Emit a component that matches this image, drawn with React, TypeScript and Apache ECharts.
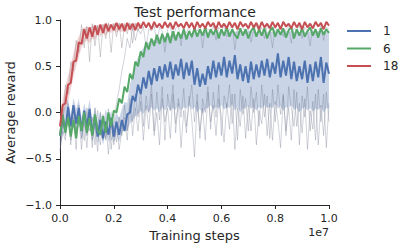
import React, { useEffect, useRef } from 'react';
import * as echarts from 'echarts';

// x positions in units of 1e7 training steps
const steps: number[] = Array.from({ length: 101 }, (_, i) => i / 100);
const earlySteps: number[] = steps.slice(0, 31);

const seriesNames = ['1', '6', '18'];
const xTickStep = 0.2;
const yTickStep = 0.5;

const blueMean = [
  -0.25, -0.05, -0.2, 0.06, -0.15, 0.08, -0.12, 0.05, -0.2, 0.02,
  -0.16, 0.04, -0.24, -0.04, -0.26, -0.08, -0.28, -0.1, -0.24, -0.06,
  -0.26, -0.1, -0.24, -0.08, -0.2, -0.02, 0.0, 0.18, 0.12, 0.3,
  0.2, 0.38, 0.26, 0.45, 0.3, 0.48, 0.34, 0.5, 0.36, 0.52,
  0.38, 0.55, 0.36, 0.52, 0.4, 0.58, 0.36, 0.54, 0.4, 0.56,
  0.3, 0.48, 0.28, 0.42, 0.3, 0.5, 0.36, 0.56, 0.38, 0.54,
  0.4, 0.6, 0.38, 0.56, 0.42, 0.62, 0.36, 0.52, 0.34, 0.5,
  0.32, 0.55, 0.36, 0.52, 0.38, 0.56, 0.4, 0.58, 0.38, 0.54,
  0.42, 0.64, 0.38, 0.56, 0.4, 0.6, 0.36, 0.55, 0.34, 0.5,
  0.36, 0.56, 0.32, 0.52, 0.34, 0.55, 0.38, 0.6, 0.32, 0.54,
  0.42,
];

const greenMean = [
  -0.25, -0.02, -0.22, -0.05, -0.26, -0.08, -0.28, -0.04, -0.2, 0.0,
  -0.22, -0.06, -0.25, -0.02, -0.2, -0.24, -0.04, -0.22, 0.0, -0.15,
  0.02, 0.0, 0.15, 0.1, 0.28, 0.22, 0.42, 0.36, 0.55, 0.5,
  0.66, 0.6, 0.76, 0.68, 0.8, 0.72, 0.84, 0.74, 0.85, 0.76,
  0.86, 0.75, 0.88, 0.78, 0.87, 0.8, 0.9, 0.79, 0.88, 0.82,
  0.91, 0.82, 0.9, 0.83, 0.92, 0.81, 0.9, 0.84, 0.91, 0.8,
  0.9, 0.83, 0.92, 0.82, 0.9, 0.84, 0.8, 0.91, 0.83, 0.9,
  0.8, 0.88, 0.92, 0.82, 0.9, 0.83, 0.91, 0.8, 0.88, 0.92,
  0.82, 0.9, 0.84, 0.91, 0.81, 0.89, 0.92, 0.8, 0.9, 0.83,
  0.91, 0.82, 0.88, 0.92, 0.83, 0.9, 0.81, 0.91, 0.84, 0.9,
  0.86,
];

const redMean = [
  -0.15, 0.08, 0.1, 0.3, 0.32, 0.55, 0.56, 0.76, 0.74, 0.9,
  0.8, 0.92, 0.82, 0.94, 0.84, 0.95, 0.86, 0.96, 0.88, 0.95,
  0.89, 0.97, 0.9, 0.96, 0.88, 0.97, 0.9, 0.96, 0.89, 0.97,
  0.91, 0.98, 0.92, 0.97, 0.9, 0.98, 0.92, 0.96, 0.91, 0.98,
  0.92, 0.97, 0.9, 0.98, 0.93, 0.96, 0.91, 0.98, 0.92, 0.97,
  0.9, 0.98, 0.92, 0.96, 0.91, 0.98, 0.93, 0.97, 0.9, 0.98,
  0.92, 0.96, 0.91, 0.98, 0.92, 0.97, 0.9, 0.98, 0.93, 0.96,
  0.91, 0.98, 0.92, 0.97, 0.9, 0.98, 0.92, 0.96, 0.91, 0.98,
  0.92, 0.97, 0.9, 0.98, 0.93, 0.96, 0.91, 0.98, 0.92, 0.97,
  0.9, 0.98, 0.92, 0.96, 0.91, 0.98, 0.93, 0.97, 0.9, 0.98,
  0.94,
];

const blueBandLow = [
  -0.38, -0.25, -0.18, -0.12, -0.26, -0.1, -0.2, -0.1, -0.3, -0.15,
  -0.26, -0.12, -0.32, -0.18, -0.34, -0.22, -0.35, -0.2, -0.32, -0.22,
  -0.33, -0.24, -0.32, -0.22, -0.18, -0.2, -0.12, -0.08, -0.04, -0.02,
  0.02, -0.02, 0.04, 0.0, 0.06, 0.02, 0.05, 0.0, 0.06, 0.02,
  0.07, 0.02, 0.05, 0.03, 0.08, 0.02, 0.06, 0.04, 0.08, 0.03,
  0.06, 0.0, 0.04, -0.02, 0.04, 0.05, 0.08, 0.03, 0.06, 0.04,
  0.08, 0.03, 0.06, 0.05, 0.09, 0.02, 0.06, 0.0, 0.05, 0.04,
  0.08, 0.04, 0.06, 0.02, 0.06, 0.04, 0.08, 0.05, 0.06, 0.05,
  0.1, 0.04, 0.07, 0.02, 0.06, 0.05, 0.08, 0.03, 0.05, 0.0,
  0.04, 0.06, 0.02, 0.05, 0.01, 0.04, 0.03, 0.06, 0.0, 0.05,
  0.04,
];

const blueBandHigh = [
  -0.12, 0.01, 0.08, 0.15, -0.03, 0.16, 0.04, 0.15, -0.06, 0.1,
  -0.02, 0.14, -0.08, 0.06, -0.1, 0.02, -0.12, 0.04, -0.08, 0.02,
  -0.1, 0.0, -0.06, 0.04, 0.12, 0.1, 0.3, 0.42, 0.52, 0.6,
  0.66, 0.7, 0.74, 0.76, 0.79, 0.78, 0.8, 0.81, 0.83, 0.82,
  0.84, 0.83, 0.85, 0.84, 0.86, 0.85, 0.86, 0.85, 0.87, 0.86,
  0.87, 0.86, 0.87, 0.86, 0.88, 0.87, 0.88, 0.87, 0.88, 0.87,
  0.88, 0.87, 0.88, 0.87, 0.88, 0.87, 0.88, 0.87, 0.88, 0.87,
  0.88, 0.87, 0.88, 0.87, 0.88, 0.87, 0.88, 0.87, 0.88, 0.87,
  0.88, 0.87, 0.88, 0.87, 0.88, 0.87, 0.88, 0.87, 0.88, 0.87,
  0.88, 0.87, 0.88, 0.87, 0.88, 0.87, 0.88, 0.87, 0.88, 0.87,
  0.88,
];

const blueRunLow = [
  -0.42, -0.2, -0.3, 0.05, -0.35, -0.05, -0.4, 0.08, -0.28, -0.1,
  -0.38, 0.02, -0.3, -0.15, -0.42, 0.0, -0.3, -0.12, -0.45, -0.05,
  -0.35, -0.1, -0.4, -0.2, -0.05, -0.3, 0.1, -0.25, 0.05, -0.2,
  0.12, -0.3, 0.08, -0.18, 0.2, -0.25, 0.0, -0.35, 0.15, -0.1,
  0.05, -0.28, 0.2, -0.12, 0.1, -0.38, 0.02, -0.22, 0.18, -0.08,
  -0.48, 0.12, -0.2, 0.05, -0.3, 0.22, -0.1, 0.08, -0.25, 0.15,
  -0.05, -0.32, 0.1, -0.18, 0.2, -0.4, 0.05, -0.15, 0.18, -0.28,
  0.08, -0.2, 0.15, -0.35, 0.02, -0.12, 0.2, -0.25, 0.1, -0.3,
  0.12, -0.08, -0.38, 0.18, -0.2, 0.05, -0.3, 0.25, -0.15, 0.1,
  -0.22, 0.15, -0.4, 0.02, -0.18, 0.2, -0.35, 0.08, -0.25, 0.22,
  -0.1,
];

const blueRunMid = [
  -0.35, -0.1, -0.25, 0.0, -0.3, 0.08, -0.2, -0.05, -0.4, 0.02,
  -0.25, -0.05, -0.38, 0.05, -0.2, -0.35, -0.02, -0.28, 0.04, -0.3,
  -0.15, -0.32, -0.05, -0.25, 0.08, -0.2, 0.15, -0.1, 0.2, -0.05,
  0.25, -0.15, 0.18, 0.0, 0.3, -0.2, 0.22, -0.08, 0.28, -0.3,
  0.2, 0.02, 0.3, -0.22, 0.15, -0.05, 0.26, -0.15, 0.1, 0.3,
  -0.1, 0.2, -0.28, 0.15, 0.0, 0.28, -0.18, 0.22, -0.05, 0.3,
  -0.25, 0.18, 0.05, 0.3, -0.12, 0.2, -0.3, 0.25, -0.02, 0.15,
  -0.2, 0.28, 0.0, 0.22, -0.15, 0.3, -0.05, 0.18, -0.28, 0.25,
  -0.1, 0.3, -0.02, 0.2, -0.25, 0.28, 0.05, -0.15, 0.22, -0.35,
  0.18, -0.05, 0.28, -0.2, 0.12, -0.3, 0.25, -0.1, 0.2, -0.38,
  0.1,
];

const blueRunHigh = [
  -0.3, -0.08, -0.2, 0.1, -0.15, 0.05, -0.25, 0.0, -0.1, -0.3,
  0.05, -0.2, -0.05, -0.35, 0.02, -0.25, -0.1, -0.3, 0.0, -0.4,
  -0.1, 0.1, 0.25, 0.45, 0.6, 0.8, 0.7, 0.92, 0.78, 0.9,
  0.85, 0.93, 0.7, 0.9, 0.88, 0.94, 0.75, 0.92, 0.88, 0.65,
  0.9, 0.93, 0.8, 0.91, 0.94, 0.72, 0.9, 0.86, 0.93, 0.8,
  0.92, 0.88, 0.94, 0.7, 0.91, 0.9, 0.86, 0.94, 0.78, 0.92,
  0.89, 0.93, 0.82, 0.9, 0.94, 0.68, 0.91, 0.88, 0.93, 0.85,
  0.92, 0.76, 0.9, 0.94, 0.87, 0.92, 0.8, 0.93, 0.9, 0.7,
  0.92, 0.88, 0.94, 0.82, 0.9, 0.93, 0.75, 0.91, 0.89, 0.94,
  0.8, 0.92, 0.88, 0.72, 0.93, 0.9, 0.85, 0.94, 0.78, 0.92,
  0.9,
];

const redRunEarly = [
  -0.4, -0.15, 0.3, 0.2, 0.55, 0.45, 0.78, 0.65, 0.95, 0.7,
  0.93, 0.55, 0.96, 0.72, 0.94, 0.6, 0.95, 0.8, 0.97, 0.65,
  0.96, 0.82, 0.97, 0.7, 0.95, 0.85, 0.97, 0.75, 0.96, 0.88,
  0.95,
];

const redBandLowEarly = [
  -0.2, -0.05, 0.05, 0.12, 0.25, 0.38, 0.5, 0.6, 0.7, 0.76,
  0.78, 0.75, 0.8, 0.79, 0.84, 0.82, 0.86, 0.83, 0.87, 0.86,
  0.89, 0.86, 0.88, 0.87, 0.9, 0.88, 0.9, 0.88, 0.91, 0.9,
  0.92,
];

const redBandHighEarly = [
  0.0, 0.15, 0.28, 0.4, 0.52, 0.64, 0.76, 0.82, 0.9, 0.92,
  0.93, 0.91, 0.94, 0.93, 0.95, 0.94, 0.96, 0.95, 0.96, 0.95,
  0.97, 0.95, 0.96, 0.95, 0.97, 0.95, 0.96, 0.95, 0.97, 0.96,
  0.97,
];

const COLORS = ['#4c72b0', '#55a868', '#c44e52'];
const TEXT = '#262626';
const FONT = 'DejaVu Sans';

function pairs(xs: number[], ys: number[]) {
  return xs.map((x, i) => [x, ys[i]]);
}

// confidence band drawn as a polygon through the chart's own coordinate system
function bandSeries(id: string, xs: number[], lo: number[], hi: number[], fill: string) {
  return {
    name: id,
    type: 'custom',
    silent: true,
    clip: true,
    data: pairs(xs, lo),
    encode: { x: 0, y: 1 },
    renderItem: (params: any, api: any) => {
      if (params.dataIndex !== 0) return null;
      const upper = xs.map((x, i) => api.coord([x, hi[i]]));
      const lower = xs.map((x, i) => api.coord([x, lo[i]])).reverse();
      return {
        type: 'polygon',
        shape: { points: upper.concat(lower) },
        style: { fill },
      };
    },
  };
}

function traceSeries(id: string, xs: number[], ys: number[], color: string) {
  return {
    name: id,
    type: 'line',
    symbol: 'none',
    silent: true,
    lineStyle: { width: 0.7, color, opacity: 0.45 },
    data: pairs(xs, ys),
  };
}

function meanSeries(name: string, ys: number[], color: string) {
  return {
    name,
    type: 'line',
    symbol: 'none',
    color,
    lineStyle: { width: 2, color },
    data: pairs(steps, ys),
  };
}

function fmt(v: number) {
  const s = Math.abs(v).toFixed(1);
  return v < 0 ? '\u2212' + s : s;
}

export default function App() {
  const ref = useRef<HTMLDivElement>(null);
  useEffect(() => {
    const chart = echarts.init(ref.current!, null, { renderer: 'svg' });
    chart.setOption({
      animation: false,
      textStyle: { fontFamily: FONT, color: TEXT },
      title: {
        text: 'Test performance',
        left: 195,
        top: 5,
        textAlign: 'center',
        padding: 0,
        textStyle: { fontFamily: FONT, fontSize: 14, fontWeight: 'normal', color: TEXT },
      },
      grid: { left: 60, right: 78, top: 20, bottom: 43, containLabel: false, outerBoundsMode: 'none' },
      legend: {
        data: seriesNames,
        orient: 'vertical',
        left: 342,
        top: 20,
        icon: 'rect',
        itemWidth: 24,
        itemHeight: 2,
        itemGap: 5.5,
        textStyle: { fontFamily: FONT, fontSize: 12, color: TEXT, padding: [0, 0, 0, 7] },
      },
      xAxis: {
        type: 'value',
        min: 0,
        max: 1,
        interval: xTickStep,
        name: 'Training steps',
        nameLocation: 'middle',
        nameGap: 24,
        nameMoveOverlap: false,
        nameTextStyle: { fontFamily: FONT, fontSize: 13, color: TEXT },
        axisLine: { onZero: false, lineStyle: { color: TEXT, width: 1 } },
        axisTick: { length: 4, lineStyle: { color: TEXT } },
        axisLabel: { fontFamily: FONT, fontSize: 11, color: TEXT, margin: 8, formatter: fmt },
        splitLine: { show: false },
      },
      yAxis: {
        type: 'value',
        min: -1,
        max: 1,
        interval: yTickStep,
        name: 'Average reward',
        nameLocation: 'middle',
        nameGap: 43,
        nameMoveOverlap: false,
        nameTextStyle: { fontFamily: FONT, fontSize: 13, color: TEXT },
        axisLine: { show: true, onZero: false, lineStyle: { color: TEXT, width: 1 } },
        axisTick: { show: true, length: 4, lineStyle: { color: TEXT } },
        axisLabel: { fontFamily: FONT, fontSize: 11, color: TEXT, margin: 8, formatter: fmt },
        splitLine: { show: false },
      },
      graphic: [
        {
          type: 'text',
          right: 78,
          top: 227,
          style: { text: '1e7', fontFamily: FONT, fontSize: 11, fill: TEXT },
        },
      ],
      series: [
        bandSeries('blueBand', steps, blueBandLow, blueBandHigh, 'rgba(76,114,176,0.3)'),
        traceSeries('blueRunLow', steps, blueRunLow, '#6b7388'),
        traceSeries('blueRunMid', steps, blueRunMid, '#6b7388'),
        traceSeries('blueRunHigh', steps, blueRunHigh, '#6b7388'),
        meanSeries(seriesNames[0], blueMean, COLORS[0]),
        meanSeries(seriesNames[1], greenMean, COLORS[1]),
        bandSeries('redBand', earlySteps, redBandLowEarly, redBandHighEarly, 'rgba(196,78,82,0.25)'),
        traceSeries('redRun', earlySteps, redRunEarly, '#7a6f72'),
        meanSeries(seriesNames[2], redMean, COLORS[2]),
      ],
    });
    return () => chart.dispose();
  }, []);
  return (
    <div
      ref={ref}
      style={{ position: 'absolute', left: 0, top: 0, width: 407, height: 248 }}
    />
  );
}
